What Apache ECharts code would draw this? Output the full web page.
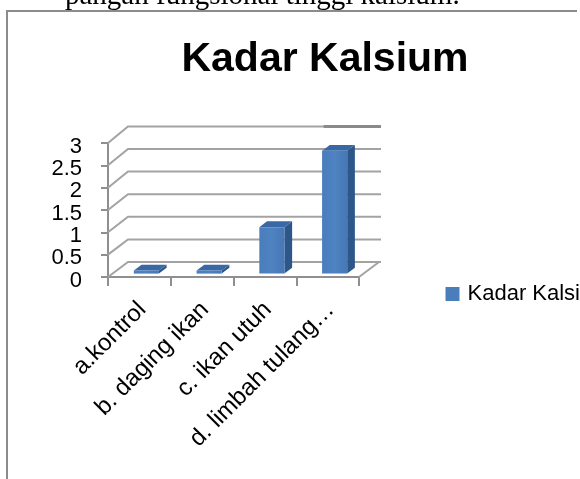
<!DOCTYPE html>
<html>
<head>
<meta charset="utf-8">
<script src="https://cdn.jsdelivr.net/npm/echarts@6/dist/echarts.min.js"></script>
<style>
html,body{margin:0;padding:0;background:#fff;}
#chart{width:580px;height:479px;}
</style>
</head>
<body>
<div id="chart"></div>
<script>
const categories = ['a.kontrol', 'b. daging ikan', 'c. ikan utuh', 'd. limbah tulang\u2026'];
const kadarKalsium = [0.07, 0.07, 1.04, 2.75];
const yTicks = [0, 0.5, 1, 1.5, 2, 2.5, 3];
const yTickLabels = ['0', '0.5', '1', '1.5', '2', '2.5', '3'];
const seriesName = 'Kadar Kalsium';
const titleText = 'Kadar Kalsium';
const aboveText = 'pangan fungsional tinggi kalsium.';

const chart = echarts.init(document.getElementById('chart'), null, {renderer: 'canvas'});

const WALL_DX = 20, WALL_DY = -15, WALL_K = 1.012;
const BAR_OX = 7, BAR_OY = -3.4, BAR_DX = 7.7, BAR_DY = -5.8;
const gridColor = '#a3a3a3';
const axisColor = '#8f8f8f';
const labelFont = '"Liberation Sans", Arial, sans-serif';

function renderWall(params, api) {
  const cs = params.coordSys;
  const left = cs.x, right = cs.x + cs.width;
  const v = api.value(0);
  const y0 = api.coord([0, 0])[1];
  const yf = api.coord([0, v])[1];
  const yb = y0 + WALL_DY - (y0 - yf) * WALL_K;
  const children = [{
    type: 'polyline',
    shape: {points: [[left, yf], [left + WALL_DX, yb], [right + WALL_DX + 2, yb]]},
    style: {stroke: gridColor, lineWidth: 2, fill: null}
  }, {
    type: 'text',
    x: left - 26,
    y: yf + 3.5,
    style: {text: yTickLabels[params.dataIndex], fontSize: 22, fontFamily: labelFont, fill: '#000', align: 'right', verticalAlign: 'middle'}
  }];
  if (params.dataIndex === 0) {
    children.push({
      type: 'line',
      shape: {x1: right, y1: y0, x2: right + WALL_DX, y2: yb},
      style: {stroke: gridColor, lineWidth: 2}
    });
  }
  if (params.dataIndex === yTicks.length - 1) {
    const xs = api.coord([categories.length - 1, 0])[0] - 4;
    children.push({
      type: 'line',
      shape: {x1: xs, y1: yb, x2: right + WALL_DX + 2, y2: yb},
      style: {stroke: '#8a8a8a', lineWidth: 3}
    });
  }
  return {type: 'group', children: children};
}

function renderCatLabel(params, api) {
  const idx = api.value(0);
  const c = api.coord([idx, 0]);
  return {
    type: 'text',
    x: c[0] + 3,
    y: c[1] + 29,
    rotation: Math.PI / 4,
    style: {text: categories[idx], fontSize: 24, fontFamily: labelFont, fill: '#000', align: 'right', verticalAlign: 'middle'}
  };
}

function renderBar(params, api) {
  const idx = api.value(0);
  const val = api.value(1);
  const c0 = api.coord([idx, 0]);
  const c1 = api.coord([idx, val]);
  const bw = api.size([1, 0])[0] * 0.4;
  const xl = c0[0] + BAR_OX - bw / 2;
  const xr = xl + bw;
  const yb = c0[1] + BAR_OY;
  const yt = c1[1] + BAR_OY;
  return {
    type: 'group',
    children: [
      {type: 'polygon', shape: {points: [[xr, yb], [xr, yt], [xr + BAR_DX, yt + BAR_DY], [xr + BAR_DX, yb + BAR_DY]]},
        style: {fill: '#2d5689'}},
      {type: 'polygon', shape: {points: [[xl, yt], [xr, yt], [xr + BAR_DX, yt + BAR_DY], [xl + BAR_DX, yt + BAR_DY]]},
        style: {fill: '#3a68a6'}},
      {type: 'rect', shape: {x: xl, y: yt, width: bw, height: yb - yt},
        style: {fill: new echarts.graphic.LinearGradient(0, 0, 1, 0, [
          {offset: 0, color: '#4a7dbd'}, {offset: 0.5, color: '#4f82c0'}, {offset: 1, color: '#4678b6'}])}}
    ]
  };
}

const option = {
  animation: false,
  backgroundColor: '#ffffff',
  textStyle: {fontFamily: labelFont},
  graphic: [
    {type: 'text', x: 65, y: -4, silent: true,
      style: {text: aboveText, font: '29px "Liberation Serif"', fill: '#000', verticalAlign: 'middle'}},
    {type: 'line', shape: {x1: 6, y1: 11, x2: 577, y2: 11}, style: {stroke: '#8c8c8c', lineWidth: 2}, silent: true},
    {type: 'line', shape: {x1: 7, y1: 10, x2: 7, y2: 479}, style: {stroke: '#8c8c8c', lineWidth: 2}, silent: true},
    {type: 'text', x: 325, y: 60, silent: true,
      style: {text: titleText, font: 'bold 41px "Liberation Sans"', fill: '#000', align: 'center', verticalAlign: 'middle'}}
  ],
  legend: {
    data: [seriesName],
    left: 440.5,
    top: 278,
    icon: 'rect',
    itemWidth: 14,
    itemHeight: 14,
    textStyle: {fontSize: 22, color: '#000', fontFamily: labelFont, padding: [0, 0, 0, 3]}
  },
  grid: {left: 108, top: 143, width: 251, height: 134, containLabel: false},
  xAxis: {
    type: 'category',
    data: categories,
    boundaryGap: true,
    axisLine: {show: true, lineStyle: {color: axisColor, width: 2}},
    axisTick: {show: true, interval: 0, length: 9, lineStyle: {color: axisColor, width: 2}},
    axisLabel: {show: false},
    splitLine: {show: false}
  },
  yAxis: {
    type: 'value',
    min: 0,
    max: 3,
    interval: 0.5,
    axisLine: {show: true, lineStyle: {color: axisColor, width: 2}},
    axisTick: {show: true, length: 7, lineStyle: {color: axisColor, width: 2}},
    axisLabel: {show: false},
    splitLine: {show: false}
  },
  series: [
    {
      type: 'custom',
      name: 'walls',
      silent: true,
      z: 1,
      renderItem: renderWall,
      data: yTicks.map(function (t) { return [t]; }),
      encode: {y: 0}
    },
    {
      type: 'custom',
      name: 'categoryLabels',
      silent: true,
      z: 1,
      renderItem: renderCatLabel,
      data: categories.map(function (c, i) { return [i]; }),
      encode: {x: 0}
    },
    {
      type: 'custom',
      name: seriesName,
      z: 3,
      itemStyle: {color: '#4a7ebb'},
      renderItem: renderBar,
      data: kadarKalsium.map(function (v, i) { return [i, v]; }),
      encode: {x: 0, y: 1}
    }
  ]
};
chart.setOption(option);
</script>
</body>
</html>
